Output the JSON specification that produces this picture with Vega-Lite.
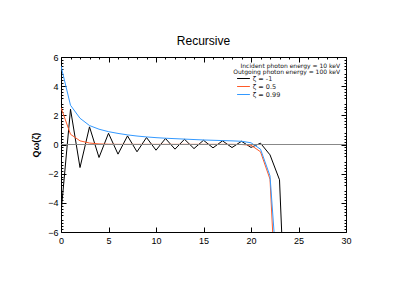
{
  "$schema": "https://vega.github.io/schema/vega-lite/v6.json",
  "width": 285,
  "height": 175,
  "autosize": {"type": "none"},
  "padding": {"left": 61, "top": 57, "right": 61, "bottom": 59},
  "background": "white",
  "title": {"text": "Recursive", "fontSize": 12, "font": "Liberation Sans", "fontWeight": "normal", "color": "black", "offset": 5, "anchor": "middle"},
  "config": {
    "view": {"stroke": "black", "strokeWidth": 1},
    "axis": {"grid": false, "labelFlush": false, "labelOverlap": false, "domainColor": "black", "tickColor": "black", "labelColor": "black", "labelFont": "Liberation Sans", "labelFontSize": 9, "titleFont": "Liberation Sans", "domain": true}
  },
  "datasets": {
    "curves": [
      {"x": 0, "y": -4.7, "s": "ζ = -1"}, {"x": 1, "y": 2.42, "s": "ζ = -1"}, {"x": 2, "y": -1.58, "s": "ζ = -1"},
      {"x": 3, "y": 1.21, "s": "ζ = -1"}, {"x": 4, "y": -0.89, "s": "ζ = -1"}, {"x": 5, "y": 0.77, "s": "ζ = -1"},
      {"x": 6, "y": -0.66, "s": "ζ = -1"}, {"x": 7, "y": 0.59, "s": "ζ = -1"}, {"x": 8, "y": -0.5, "s": "ζ = -1"},
      {"x": 9, "y": 0.48, "s": "ζ = -1"}, {"x": 10, "y": -0.39, "s": "ζ = -1"}, {"x": 11, "y": 0.41, "s": "ζ = -1"},
      {"x": 12, "y": -0.32, "s": "ζ = -1"}, {"x": 13, "y": 0.36, "s": "ζ = -1"}, {"x": 14, "y": -0.28, "s": "ζ = -1"},
      {"x": 15, "y": 0.29, "s": "ζ = -1"}, {"x": 16, "y": -0.23, "s": "ζ = -1"}, {"x": 17, "y": 0.25, "s": "ζ = -1"},
      {"x": 18, "y": -0.21, "s": "ζ = -1"}, {"x": 19, "y": 0.22, "s": "ζ = -1"}, {"x": 20, "y": -0.2, "s": "ζ = -1"},
      {"x": 21, "y": 0.09, "s": "ζ = -1"}, {"x": 22, "y": -0.71, "s": "ζ = -1"}, {"x": 23, "y": -2.42, "s": "ζ = -1"},
      {"x": 24, "y": -18, "s": "ζ = -1"},
      {"x": 0, "y": 2.53, "s": "ζ = 0.5"}, {"x": 1, "y": 0.7, "s": "ζ = 0.5"}, {"x": 2, "y": 0.25, "s": "ζ = 0.5"},
      {"x": 3, "y": 0.1, "s": "ζ = 0.5"}, {"x": 4, "y": 0.04, "s": "ζ = 0.5"}, {"x": 5, "y": 0.02, "s": "ζ = 0.5"},
      {"x": 6, "y": 0.01, "s": "ζ = 0.5"}, {"x": 7, "y": 0.01, "s": "ζ = 0.5"}, {"x": 8, "y": 0.01, "s": "ζ = 0.5"},
      {"x": 9, "y": 0.01, "s": "ζ = 0.5"}, {"x": 10, "y": 0.01, "s": "ζ = 0.5"}, {"x": 11, "y": 0.01, "s": "ζ = 0.5"},
      {"x": 12, "y": 0.01, "s": "ζ = 0.5"}, {"x": 13, "y": 0.01, "s": "ζ = 0.5"}, {"x": 14, "y": 0.01, "s": "ζ = 0.5"},
      {"x": 15, "y": 0.01, "s": "ζ = 0.5"}, {"x": 16, "y": 0.01, "s": "ζ = 0.5"}, {"x": 17, "y": 0.01, "s": "ζ = 0.5"},
      {"x": 18, "y": 0.01, "s": "ζ = 0.5"}, {"x": 19, "y": 0.0, "s": "ζ = 0.5"}, {"x": 20, "y": -0.05, "s": "ζ = 0.5"},
      {"x": 21, "y": -0.5, "s": "ζ = 0.5"}, {"x": 22, "y": -2.38, "s": "ζ = 0.5"}, {"x": 23, "y": -15.3, "s": "ζ = 0.5"},
      {"x": 0, "y": 5.38, "s": "ζ = 0.99"}, {"x": 1, "y": 2.69, "s": "ζ = 0.99"}, {"x": 2, "y": 1.8, "s": "ζ = 0.99"},
      {"x": 3, "y": 1.3, "s": "ζ = 0.99"}, {"x": 4, "y": 1.05, "s": "ζ = 0.99"}, {"x": 5, "y": 0.88, "s": "ζ = 0.99"},
      {"x": 6, "y": 0.76, "s": "ζ = 0.99"}, {"x": 7, "y": 0.66, "s": "ζ = 0.99"}, {"x": 8, "y": 0.58, "s": "ζ = 0.99"},
      {"x": 9, "y": 0.52, "s": "ζ = 0.99"}, {"x": 10, "y": 0.47, "s": "ζ = 0.99"}, {"x": 11, "y": 0.43, "s": "ζ = 0.99"},
      {"x": 12, "y": 0.4, "s": "ζ = 0.99"}, {"x": 13, "y": 0.37, "s": "ζ = 0.99"}, {"x": 14, "y": 0.34, "s": "ζ = 0.99"},
      {"x": 15, "y": 0.31, "s": "ζ = 0.99"}, {"x": 16, "y": 0.29, "s": "ζ = 0.99"}, {"x": 17, "y": 0.27, "s": "ζ = 0.99"},
      {"x": 18, "y": 0.25, "s": "ζ = 0.99"}, {"x": 19, "y": 0.22, "s": "ζ = 0.99"}, {"x": 20, "y": 0.12, "s": "ζ = 0.99"},
      {"x": 21, "y": -0.32, "s": "ζ = 0.99"}, {"x": 22, "y": -2.15, "s": "ζ = 0.99"}, {"x": 23, "y": -11.2, "s": "ζ = 0.99"}
    ],
    "header": [
      {"x": 29.37, "y": 5.36, "text": "Incident photon energy = 10 keV\nOutgoing photon energy = 100 keV"}
    ]
  },
  "resolve": {"axis": {"x": "independent", "y": "independent"}},
  "layer": [
    {
      "data": {"name": "curves"},
      "mark": {"type": "line", "clip": true, "strokeWidth": 1},
      "encoding": {
        "x": {"field": "x", "type": "quantitative", "scale": {"domain": [0, 30], "nice": false, "zero": false},
          "axis": {"orient": "bottom", "title": null, "values": [0, 5, 10, 15, 20, 25, 30], "tickSize": -5, "labelPadding": 9, "domain": false}},
        "y": {"field": "y", "type": "quantitative", "scale": {"domain": [-6, 6], "nice": false, "zero": false},
          "axis": {"orient": "left", "title": "Qω(ζ)", "titleFontSize": 9, "titleFontWeight": "bold", "titlePadding": 7, "values": [-6, -4, -2, 0, 2, 4, 6], "tickSize": -5, "labelPadding": 8, "domain": false}},
        "color": {"field": "s", "type": "nominal", "sort": ["ζ = -1", "ζ = 0.5", "ζ = 0.99"],
          "scale": {"domain": ["ζ = -1", "ζ = 0.5", "ζ = 0.99"], "range": ["#000000", "#ff5a28", "#3399ff"]},
          "legend": {"orient": "none", "legendX": 178, "legendY": 17, "title": null, "symbolType": "M-1.6,0H1.6", "symbolSize": 64, "symbolStrokeWidth": 1, "labelFontSize": 6.5, "labelFont": "DejaVu Sans", "labelColor": "#222", "rowPadding": 0, "labelOffset": 4.7, "symbolOffset": 0, "padding": 0}}
      }
    },
    {
      "data": {"values": [{"y": 0}]},
      "mark": {"type": "rule", "color": "#888888", "strokeWidth": 1},
      "encoding": {
        "y": {"field": "y", "type": "quantitative", "scale": {"domain": [-6, 6], "nice": false, "zero": false},
          "axis": {"orient": "left", "title": null, "labels": false, "values": [-5.8,-5.6,-5.4,-5.2,-4.8,-4.6,-4.4,-4.2,-3.8,-3.6,-3.4,-3.2,-2.8,-2.6,-2.4,-2.2,-1.8,-1.6,-1.4,-1.2,-0.8,-0.6,-0.4,-0.2,0.2,0.4,0.6,0.8,1.2,1.4,1.6,1.8,2.2,2.4,2.6,2.8,3.2,3.4,3.6,3.8,4.2,4.4,4.6,4.8,5.2,5.4,5.6,5.8], "tickSize": -2, "domain": false}}
      }
    },
    {
      "data": {"name": "header"},
      "mark": {"type": "text", "align": "right", "baseline": "middle", "fontSize": 6, "lineHeight": 6, "lineBreak": "\n", "font": "DejaVu Sans", "color": "#111"},
      "encoding": {
        "x": {"field": "x", "type": "quantitative", "scale": {"domain": [0, 30], "nice": false, "zero": false},
          "axis": {"orient": "top", "title": null, "labels": false, "values": [0, 5, 10, 15, 20, 25, 30], "tickSize": -5, "domain": false}},
        "y": {"field": "y", "type": "quantitative", "scale": {"domain": [-6, 6], "nice": false, "zero": false},
          "axis": {"orient": "right", "title": null, "labels": false, "values": [-6, -4, -2, 0, 2, 4, 6], "tickSize": -5, "domain": false}},
        "text": {"field": "text"}
      }
    },
    {
      "data": {"values": [{"x": 1, "y": -5}]},
      "mark": {"type": "text", "fontSize": 6},
      "encoding": {
        "x": {"field": "x", "type": "quantitative", "scale": {"domain": [0, 30], "nice": false, "zero": false},
          "axis": {"orient": "top", "title": null, "labels": false, "values": [1,2,3,4,6,7,8,9,11,12,13,14,16,17,18,19,21,22,23,24,26,27,28,29], "tickSize": -2, "domain": false}},
        "y": {"field": "y", "type": "quantitative", "scale": {"domain": [-6, 6], "nice": false, "zero": false},
          "axis": {"orient": "right", "title": null, "labels": false, "values": [-5.8,-5.6,-5.4,-5.2,-4.8,-4.6,-4.4,-4.2,-3.8,-3.6,-3.4,-3.2,-2.8,-2.6,-2.4,-2.2,-1.8,-1.6,-1.4,-1.2,-0.8,-0.6,-0.4,-0.2,0.2,0.4,0.6,0.8,1.2,1.4,1.6,1.8,2.2,2.4,2.6,2.8,3.2,3.4,3.6,3.8,4.2,4.4,4.6,4.8,5.2,5.4,5.6,5.8], "tickSize": -2, "domain": false}},
        "text": {"value": ""}
      }
    }
  ]
}
